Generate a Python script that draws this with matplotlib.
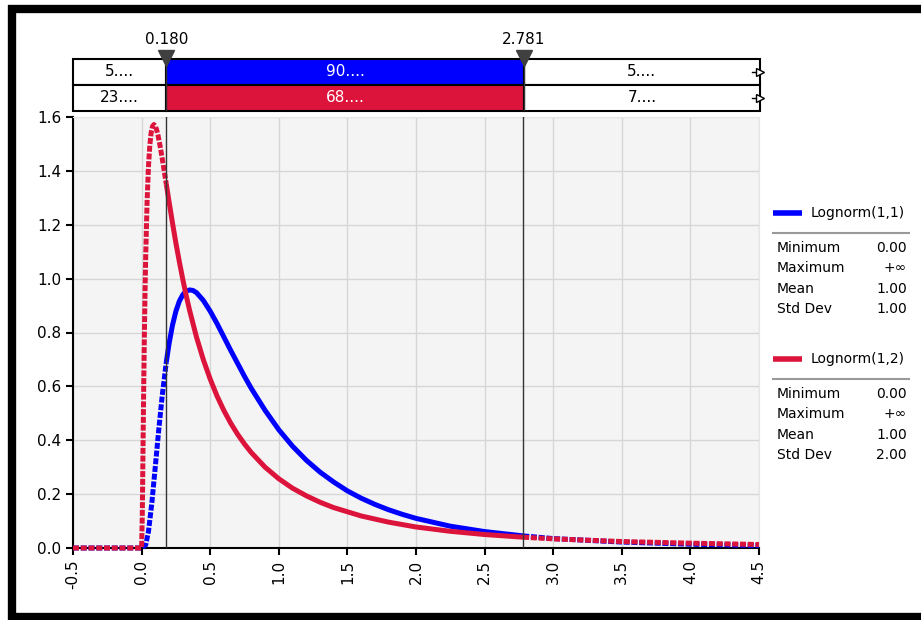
import numpy as np
import matplotlib
matplotlib.use("Agg")
import matplotlib.pyplot as plt
from matplotlib.lines import Line2D

plt.rcParams["axes.unicode_minus"] = False

# ── Données ───────────────────────────────────────────────────────────
x_blue = [-0.5, 0.0, 0.03, 0.05, 0.075, 0.1, 0.125, 0.15, 0.18, 0.2, 0.225, 0.25,
          0.275, 0.3, 0.325, 0.35, 0.375, 0.4, 0.45, 0.5, 0.55, 0.6, 0.65, 0.7,
          0.75, 0.8, 0.9, 1.0, 1.1, 1.2, 1.3, 1.4, 1.5, 1.6, 1.7, 1.8, 1.9, 2.0,
          2.25, 2.5, 2.781, 3.0, 3.5, 4.0, 4.5]
y_blue = [0.0, 0.0, 0.012, 0.061, 0.169, 0.303, 0.439, 0.564, 0.690, 0.758, 0.827,
          0.879, 0.916, 0.940, 0.954, 0.958, 0.956, 0.948, 0.919, 0.879, 0.833,
          0.783, 0.733, 0.685, 0.637, 0.592, 0.511, 0.439, 0.378, 0.326, 0.282,
          0.245, 0.212, 0.185, 0.162, 0.142, 0.125, 0.110, 0.081, 0.061, 0.045,
          0.035, 0.022, 0.014, 0.009]
x_red = [-0.5, 0.0, 0.005, 0.01, 0.015, 0.02, 0.025, 0.03, 0.04, 0.05, 0.06, 0.07,
         0.08, 0.09, 0.1, 0.11, 0.12, 0.135, 0.15, 0.18, 0.2, 0.225, 0.25, 0.275,
         0.3, 0.325, 0.35, 0.4, 0.45, 0.5, 0.55, 0.6, 0.65, 0.7, 0.75, 0.8, 0.9,
         1.0, 1.1, 1.2, 1.3, 1.4, 1.6, 1.8, 2.0, 2.25, 2.5, 2.781, 3.0, 3.5, 4.0, 4.5]
y_red = [0.0, 0.0, 0.119, 0.354, 0.584, 0.783, 0.949, 1.085, 1.286, 1.416, 1.496,
         1.543, 1.566, 1.572, 1.566, 1.552, 1.531, 1.492, 1.447, 1.351, 1.286,
         1.207, 1.132, 1.063, 0.998, 0.937, 0.882, 0.783, 0.699, 0.627, 0.564,
         0.510, 0.463, 0.422, 0.386, 0.354, 0.300, 0.257, 0.222, 0.194, 0.170,
         0.150, 0.119, 0.096, 0.078, 0.062, 0.050, 0.040, 0.034, 0.024, 0.018, 0.013]

lo, hi = 0.180, 2.781
series = ["Lognorm(1,1)", "Lognorm(1,2)"]
colors = ["#0000ff", "#dc143c"]
bar_texts = [["5....", "90....", "5...."], ["23....", "68....", "7...."]]
stat_names = ["Minimum", "Maximum", "Mean", "Std Dev"]
stat_vals = [["0.00", "+∞", "1.00", "1.00"], ["0.00", "+∞", "1.00", "2.00"]]

W, H = 921, 620
fig = plt.figure(figsize=(W / 100, H / 100), dpi=100)


def fx(px): return px / W
def fy(py): return 1 - py / H


# ── Zone principale ───────────────────────────────────────────────────
ax = fig.add_axes([fx(73), fy(548), fx(759) - fx(73), fy(117) - fy(548)])
ax.set_facecolor("#f4f4f4")
ax.set_xlim(-0.5, 4.5); ax.set_ylim(0, 1.6)
xt = np.arange(-0.5, 4.51, 0.5); yt = np.arange(0, 1.61, 0.2)
ax.set_xticks(xt); ax.set_yticks(yt)
ax.set_xticklabels([f"{v:.1f}" for v in xt], rotation=90)
ax.set_yticklabels([f"{v:.1f}" for v in yt])
ax.tick_params(labelsize=11, length=5, width=1.5, color="black")
ax.grid(True, color="#d6d6d6", lw=1)
ax.set_axisbelow(True)
for s in ["top", "right"]:
    ax.spines[s].set_color("#e6e6e6")
for s in ["left", "bottom"]:
    ax.spines[s].set_linewidth(1.5)

for xs, ys, col in [(x_blue, y_blue, colors[0]), (x_red, y_red, colors[1])]:
    xs = np.array(xs); ys = np.array(ys)
    mid = (xs >= lo) & (xs <= hi)
    ax.plot(xs[mid], ys[mid], color=col, lw=3.6, solid_capstyle="butt",
            solid_joinstyle="round", zorder=3)
    for m in [xs <= lo, xs >= hi]:
        ax.plot(xs[m], ys[m], color=col, lw=3.6, dashes=(1.2, 0.35),
                dash_capstyle="butt", clip_on=False, zorder=3)

for v in [lo, hi]:
    ax.axvline(v, color="#333333", lw=1, zorder=4)

# ── Barres de pourcentages en haut ────────────────────────────────────
bx = fig.add_axes([fx(73), fy(111), fx(760) - fx(73), fy(59) - fy(111)])
bx.set_xlim(-0.5, 4.5); bx.set_ylim(0, 2)
bx.axis("off")
edges = [-0.5, lo, hi, 4.5]
for r, (texts, col) in enumerate(zip(bar_texts, colors)):
    y0 = 1 - r
    for i in range(3):
        fc = col if i == 1 else "white"
        bx.barh(y0 + 0.5, edges[i + 1] - edges[i], left=edges[i], height=1,
                color=fc, edgecolor="black", lw=1.5, clip_on=False)
        bx.text((edges[i] + edges[i + 1]) / 2, y0 + 0.5, texts[i], ha="center",
                va="center", fontsize=11, color="white" if i == 1 else "black")
    fig.add_artist(Line2D([fx(752), fx(760)], [fy(72 + 26 * r)] * 2, color="black", lw=1))
    fig.add_artist(Line2D([fx(760)], [fy(72 + 26 * r)], marker=">", ms=6,
                          mfc="white", mec="black", mew=1))
for v in [lo, hi]:
    bx.axvline(v, color="#333333", lw=1, ymin=0, ymax=1)
    bx.plot([v], [2.05], marker="v", ms=11, color="#404040", clip_on=False)
    bx.text(v, 2.75, f"{v:.3f}", ha="center", va="center", fontsize=11, clip_on=False)

# ── Légende à droite ──────────────────────────────────────────────────
for k, (name, col) in enumerate(zip(series, colors)):
    y0 = 213 + 146 * k
    fig.add_artist(Line2D([fx(773), fx(802)], [fy(y0)] * 2, color=col, lw=4,
                          solid_capstyle="butt"))
    fig.text(fx(811), fy(y0), name, fontsize=10, va="center", ha="left")
    fig.add_artist(Line2D([fx(773), fx(909)], [fy(y0 + 20)] * 2, color="#999999", lw=1.5))
    for j, (sn, sv) in enumerate(zip(stat_names, stat_vals[k])):
        yy = y0 + 35 + 20.3 * j
        fig.text(fx(777), fy(yy), sn, fontsize=10, va="center", ha="left")
        fig.text(fx(907), fy(yy), sv, fontsize=10, va="center", ha="right")

# ── Cadre noir ────────────────────────────────────────────────────────
for xs_, ys_ in [([8, 925], [9, 9]), ([12, 12], [5, 625]), ([8, 925], [617, 617])]:
    fig.add_artist(Line2D([fx(p) for p in xs_], [fy(p) for p in ys_], color="black",
                          lw=6, solid_capstyle="butt"))

fig.savefig("out.png", dpi=100)
